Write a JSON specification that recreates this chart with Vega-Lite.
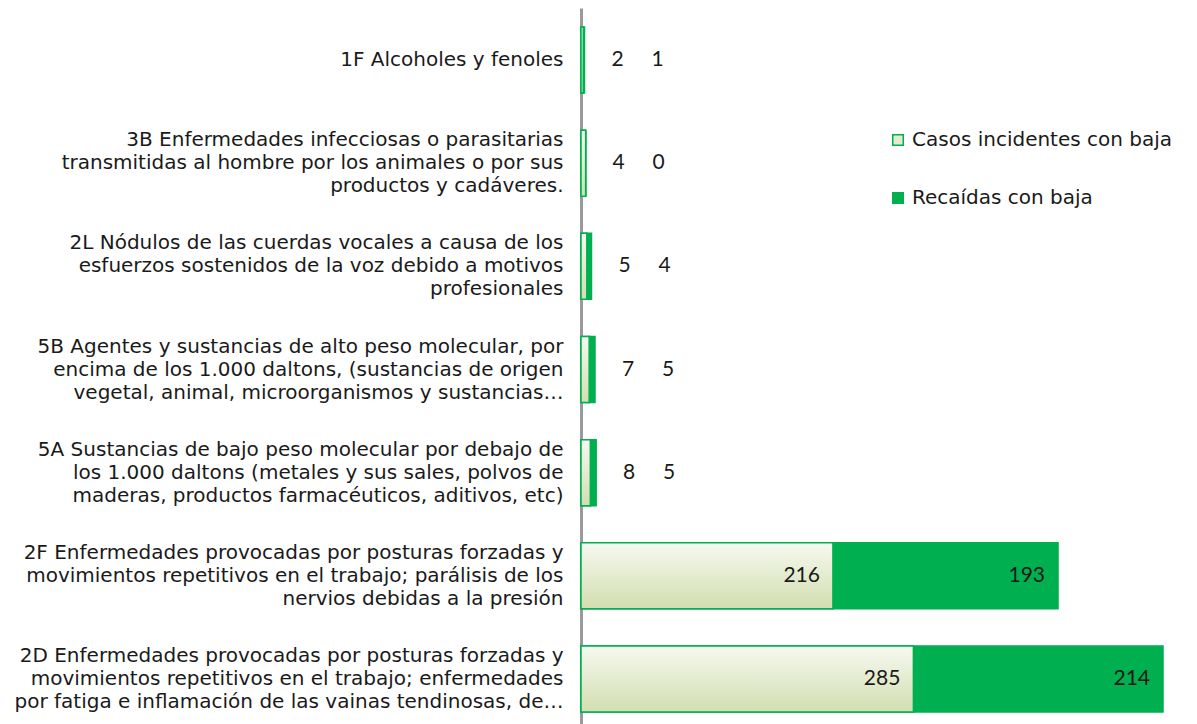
{
  "$schema": "https://vega.github.io/schema/vega-lite/v6.json",
  "autosize": {"type": "none"},
  "width": 582,
  "height": 723,
  "padding": {"left": 581, "top": 8, "right": 34, "bottom": 0},
  "background": "white",
  "config": {"view": {"stroke": null}, "font": "DejaVu Sans"},
  "data": {
    "values": [
      {"cat": "1F Alcoholes y fenoles", "serie": "Casos incidentes con baja", "orden": 1, "valor": 2, "total": 3},
      {"cat": "1F Alcoholes y fenoles", "serie": "Recaídas con baja", "orden": 2, "valor": 1, "total": 3},
      {"cat": "3B Enfermedades infecciosas o parasitarias|transmitidas al hombre por los animales o por sus|productos y cadáveres.", "serie": "Casos incidentes con baja", "orden": 1, "valor": 4, "total": 4},
      {"cat": "3B Enfermedades infecciosas o parasitarias|transmitidas al hombre por los animales o por sus|productos y cadáveres.", "serie": "Recaídas con baja", "orden": 2, "valor": 0, "total": 4},
      {"cat": "2L Nódulos de las cuerdas vocales a causa de los|esfuerzos sostenidos de la voz debido a motivos|profesionales", "serie": "Casos incidentes con baja", "orden": 1, "valor": 5, "total": 9},
      {"cat": "2L Nódulos de las cuerdas vocales a causa de los|esfuerzos sostenidos de la voz debido a motivos|profesionales", "serie": "Recaídas con baja", "orden": 2, "valor": 4, "total": 9},
      {"cat": "5B Agentes y sustancias de alto peso molecular, por|encima de los 1.000 daltons, (sustancias de origen|vegetal, animal, microorganismos y sustancias…", "serie": "Casos incidentes con baja", "orden": 1, "valor": 7, "total": 12},
      {"cat": "5B Agentes y sustancias de alto peso molecular, por|encima de los 1.000 daltons, (sustancias de origen|vegetal, animal, microorganismos y sustancias…", "serie": "Recaídas con baja", "orden": 2, "valor": 5, "total": 12},
      {"cat": "5A Sustancias de bajo peso molecular por debajo de|los 1.000 daltons (metales y sus sales, polvos de|maderas, productos farmacéuticos, aditivos, etc)", "serie": "Casos incidentes con baja", "orden": 1, "valor": 8, "total": 13},
      {"cat": "5A Sustancias de bajo peso molecular por debajo de|los 1.000 daltons (metales y sus sales, polvos de|maderas, productos farmacéuticos, aditivos, etc)", "serie": "Recaídas con baja", "orden": 2, "valor": 5, "total": 13},
      {"cat": "2F Enfermedades provocadas por posturas forzadas y|movimientos repetitivos en el trabajo; parálisis de los|nervios debidas a la presión", "serie": "Casos incidentes con baja", "orden": 1, "valor": 216, "total": 409},
      {"cat": "2F Enfermedades provocadas por posturas forzadas y|movimientos repetitivos en el trabajo; parálisis de los|nervios debidas a la presión", "serie": "Recaídas con baja", "orden": 2, "valor": 193, "total": 409},
      {"cat": "2D Enfermedades provocadas por posturas forzadas y|movimientos repetitivos en el trabajo; enfermedades|por fatiga e inflamación de las vainas tendinosas, de…", "serie": "Casos incidentes con baja", "orden": 1, "valor": 285, "total": 499},
      {"cat": "2D Enfermedades provocadas por posturas forzadas y|movimientos repetitivos en el trabajo; enfermedades|por fatiga e inflamación de las vainas tendinosas, de…", "serie": "Recaídas con baja", "orden": 2, "valor": 214, "total": 499}
    ]
  },
  "transform": [
    {"stack": "valor", "groupby": ["cat"], "sort": [{"field": "orden"}], "as": ["x0", "x1"]}
  ],
  "encoding": {
    "y": {
      "field": "cat",
      "type": "nominal",
      "sort": null,
      "scale": {"paddingInner": 0.36, "paddingOuter": 0.184},
      "axis": {
        "title": null,
        "ticks": false,
        "labelExpr": "split(datum.value, '|')",
        "labelFont": "DejaVu Sans",
        "labelFontSize": 20,
        "labelLineHeight": 23,
        "labelColor": "#1a1a1a",
        "labelPadding": 18,
        "labelLimit": 600,
        "labelOffset": {"condition": {"test": "indexof(datum.value, '|') < 0", "value": 0}, "value": -23},
        "domainColor": "#9a9a9a",
        "domainWidth": 3,
        "grid": false
      }
    }
  },
  "layer": [
    {
      "mark": {"type": "bar", "stroke": "#00b050", "strokeWidth": 1.5},
      "encoding": {
        "x": {"field": "x0", "type": "quantitative", "scale": {"domain": [0, 499], "nice": false}, "axis": null},
        "x2": {"field": "x1"},
        "color": {
          "field": "serie",
          "type": "nominal",
          "scale": {
            "domain": ["Casos incidentes con baja", "Recaídas con baja"],
            "range": ["#e3ebcf", "#00b050"]
          },
          "legend": {
            "title": null,
            "orient": "none",
            "legendX": 307,
            "legendY": 122,
            "symbolType": "square",
            "symbolSize": 110,
            "symbolStrokeColor": "#00b050",
            "symbolStrokeWidth": 1.5,
            "labelFont": "DejaVu Sans",
            "labelFontSize": 20,
            "labelColor": "#1a1a1a",
            "labelOffset": 4,
            "rowPadding": 38,
            "labelLimit": 400
          }
        }
      }
    },
    {
      "transform": [{"filter": "datum.orden == 1"}],
      "mark": {
        "type": "bar",
        "stroke": "#00b050",
        "strokeWidth": 1.5,
        "fill": {"gradient": "linear", "x1": 0, "y1": 0, "x2": 0, "y2": 1, "stops": [{"offset": 0, "color": "#f6f9f0"}, {"offset": 1, "color": "#d2deb0"}]}
      },
      "encoding": {
        "x": {"field": "x0", "type": "quantitative"},
        "x2": {"field": "x1"}
      }
    },
    {
      "transform": [{"filter": "datum.total >= 50"}],
      "mark": {"type": "text", "align": "right", "baseline": "middle", "dx": -13, "font": "Lato", "fontSize": 21, "color": "#1a1a1a"},
      "encoding": {
        "x": {"field": "x1", "type": "quantitative"},
        "text": {"field": "valor", "type": "quantitative"}
      }
    },
    {
      "transform": [{"filter": "datum.total < 50 && datum.orden == 1"}],
      "mark": {"type": "text", "align": "center", "baseline": "middle", "dx": 33, "font": "Lato", "fontSize": 21, "color": "#1a1a1a"},
      "encoding": {
        "x": {"field": "total", "type": "quantitative"},
        "text": {"field": "valor", "type": "quantitative"}
      }
    },
    {
      "transform": [{"filter": "datum.total < 50 && datum.orden == 2"}],
      "mark": {"type": "text", "align": "center", "baseline": "middle", "dx": 73, "font": "Lato", "fontSize": 21, "color": "#1a1a1a"},
      "encoding": {
        "x": {"field": "total", "type": "quantitative"},
        "text": {"field": "valor", "type": "quantitative"}
      }
    }
  ]
}
